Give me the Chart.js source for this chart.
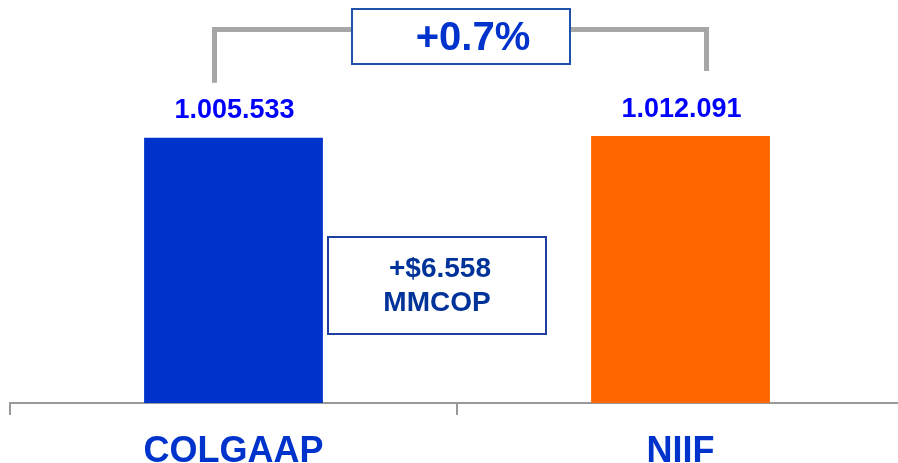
<!DOCTYPE html>
<html>
<head>
<meta charset="utf-8">
<script src="https://cdn.jsdelivr.net/npm/chart.js@4.4.1/dist/chart.umd.min.js"></script>
<style>
html, body { margin: 0; padding: 0; overflow: hidden; background: #fff; }
#wrap { width: 904px; height: 463px; }
</style>
</head>
<body>
<div id="wrap"><canvas id="chart" width="904" height="463"></canvas></div>
<script>
const categories = ['COLGAAP', 'NIIF']
const values = [1005533, 1012091]
const barColors = ['#0033CC', '#FF6600']
const unitLabel = 'MMCOP'
const yMax = 1528000

const FONT = '"Liberation Sans", Arial, sans-serif'

// 1005533 -> 1.005.533
const fmt = (n) => String(Math.round(n)).replace(/\B(?=(\d{3})+(?!\d))/g, '.')

const diff = values[1] - values[0]
const pct = diff / values[0] * 100
const pctText = (pct >= 0 ? '+' : '') + pct.toFixed(1) + '%'
const diffText = (diff >= 0 ? '+$' : '-$') + fmt(Math.abs(diff))

const drawBox = (ctx, x, y, w, h, stroke) => {
    ctx.fillStyle = '#FFFFFF'
    ctx.fillRect(x, y, w, h)
    ctx.strokeStyle = stroke
    ctx.lineWidth = 2
    ctx.strokeRect(x, y, w, h)
}

const annotations = {
    id: 'annotations',
    afterDatasetsDraw(chart) {
        const ctx = chart.ctx
        const bars = chart.getDatasetMeta(0).data
        const base = chart.chartArea.bottom
        ctx.save()

        // value labels over bars
        ctx.textAlign = 'center'
        ctx.textBaseline = 'middle'
        ctx.font = 'bold 27px ' + FONT
        ctx.fillStyle = '#0000FF'
        bars.forEach((b, i) => ctx.fillText(fmt(values[i]), b.x + 1, b.y - 27))

        // bracket between the bars
        const left = bars[0].x - 19
        const right = bars[1].x + 26
        const top = 29.5
        ctx.strokeStyle = '#A6A6A6'
        ctx.lineWidth = 5
        ctx.beginPath()
        ctx.moveTo(left, bars[0].y - 55)
        ctx.lineTo(left, top)
        ctx.lineTo(right, top)
        ctx.lineTo(right, bars[1].y - 65)
        ctx.stroke()

        // percentage box
        const mid = (bars[0].x + bars[1].x) / 2
        drawBox(ctx, mid + 4 - 109, 9, 218, 55, '#2050A8')
        ctx.font = 'bold 40px ' + FONT
        ctx.fillStyle = '#0033CC'
        ctx.fillText(pctText, mid + 16, 39)

        // difference box
        drawBox(ctx, mid - 20 - 109, base - 166, 218, 97, '#1F3F9F')
        ctx.font = 'bold 28px ' + FONT
        ctx.fillStyle = '#003399'
        ctx.fillText(diffText, mid - 17, base - 134)
        ctx.fillText(unitLabel, mid - 20, base - 100)

        ctx.restore()
    }
}

const config = {
    type: 'bar',
    data: {
        labels: categories,
        datasets: [
            {
                data: values,
                backgroundColor: barColors,
                barPercentage: 0.4,
                categoryPercentage: 1.0,
            }
        ]
    },
    options: {
        responsive: false,
        animation: false,
        devicePixelRatio: 1,
        layout: { padding: { left: 10, right: 0, top: 0, bottom: 0 } },
        plugins: {
            legend: { display: false },
            tooltip: { enabled: false },
        },
        scales: {
            x: {
                afterFit(scale) { scale.height = 60 },
                grid: {
                    display: true,
                    drawOnChartArea: false,
                    drawTicks: true,
                    tickLength: 12,
                    color: '#999999',
                    lineWidth: 2,
                    offset: true,
                },
                border: { color: '#999999', width: 2 },
                ticks: {
                    color: '#0033CC',
                    padding: 15,
                    font: { family: FONT, size: 36, weight: 'bold' },
                },
            },
            y: {
                display: false,
                min: 0,
                max: yMax,
            }
        }
    },
    plugins: [annotations],
}

new Chart(document.getElementById('chart').getContext('2d'), config)
</script>
</body>
</html>
